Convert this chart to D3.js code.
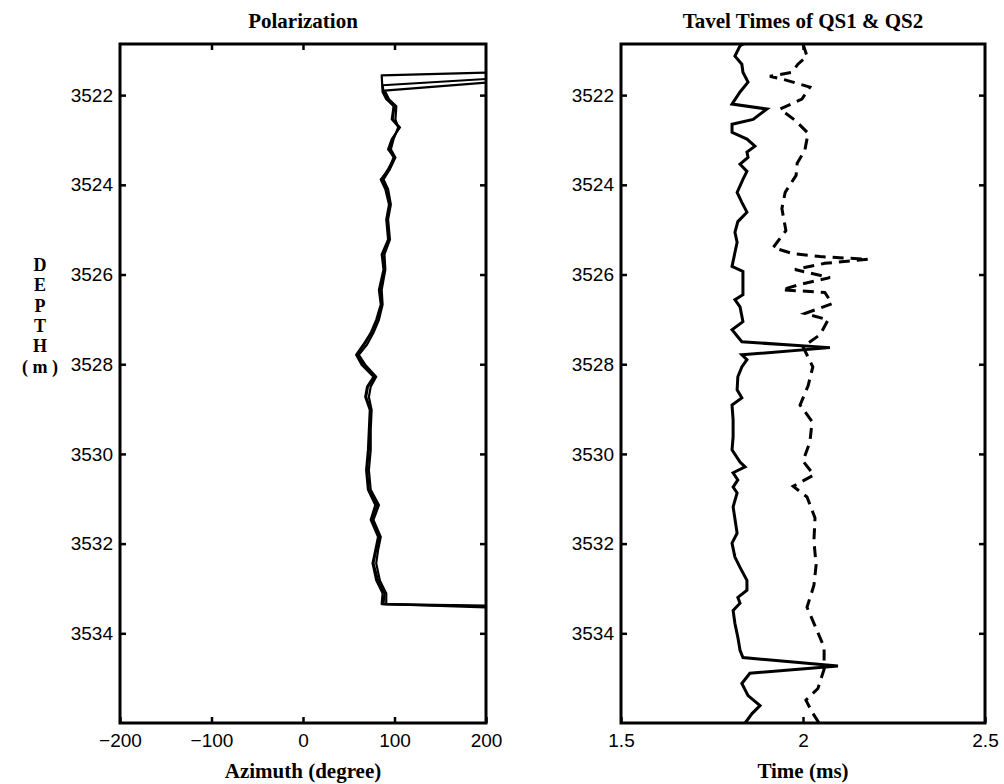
<!DOCTYPE html>
<html>
<head>
<meta charset="utf-8">
<script src="https://cdn.jsdelivr.net/npm/d3@7"></script>
<style>
  body { margin: 0; background: #fff; }
  .tick text { font-family: 'Liberation Sans', Arial, sans-serif; font-size: 19px; fill: #000; }
</style>
</head>
<body>
<div id="chart"></div>
<script>
// depth axis (shared)
var depthTicks = [3522, 3524, 3526, 3528, 3530, 3532, 3534];
var depthLabel = ['D', 'E', 'P', 'T', 'H', '( m )'];

// polarization panel
var azimuthTicks = [-200, -100, 0, 100, 200];
var polTopStart = [3521.50, 3521.72, 3521.64];
var polTopCorner = [3521.56, 3521.90, 3521.78];
var polTopCornerAz = [86, 89, 87];
var polEndDepth = [3533.38, 3533.42, 3533.40];
var depthPol = [3521.93, 3522.09, 3522.25, 3522.54, 3522.72, 3522.98, 3523.21, 3523.39, 3523.65, 3523.88,
  3524.10, 3524.44, 3524.77, 3525.22, 3525.55, 3525.89, 3526.34, 3526.67, 3527.01, 3527.30,
  3527.56, 3527.79, 3528.01, 3528.28, 3528.50, 3528.73, 3529.02, 3529.46, 3529.91, 3530.36,
  3530.80, 3531.14, 3531.47, 3531.85, 3532.15, 3532.44, 3532.82, 3533.11, 3533.35];
var azimuthA = [87, 91, 100, 98, 106, 97, 93, 100, 93, 86, 91, 95, 92, 94, 87, 89, 84, 86, 81, 75,
  67, 59, 66, 79, 71, 69, 74, 73, 72, 70, 72, 81, 75, 84, 80, 77, 82, 89, 88];
var azimuthB = [90, 94, 102, 101, 104, 99, 96, 101, 95, 88, 93, 96, 93, 95, 89, 90, 86, 87, 83, 77,
  70, 61, 68, 80, 74, 72, 75, 74, 74, 72, 74, 83, 77, 85, 82, 80, 84, 91, 91];
var azimuthC = [88, 92, 99, 97, 105, 98, 94, 99, 94, 85, 90, 94, 91, 93, 86, 88, 83, 85, 80, 74,
  66, 58, 64, 77, 70, 68, 73, 72, 71, 69, 71, 79, 74, 82, 79, 76, 80, 87, 86];

// travel time panel
var timeTicks = [1.5, 2, 2.5];
var qs1Depth = [3520.84, 3520.90, 3521.13, 3521.31, 3521.49, 3521.71, 3521.93, 3522.20, 3522.31, 3522.54,
  3522.65, 3522.83, 3522.98, 3523.14, 3523.27, 3523.39, 3523.54, 3523.70, 3523.88, 3524.17,
  3524.39, 3524.61, 3524.82, 3525.06, 3525.28, 3525.51, 3525.82, 3525.93, 3526.45, 3526.56,
  3526.72, 3527.05, 3527.23, 3527.50, 3527.63, 3527.79, 3527.90, 3528.06, 3528.28, 3528.57,
  3528.75, 3528.91, 3529.24, 3529.62, 3529.91, 3530.18, 3530.29, 3530.42, 3530.58, 3530.74,
  3530.87, 3531.18, 3531.77, 3531.99, 3532.30, 3532.53, 3532.82, 3533.04, 3533.20, 3533.33,
  3533.49, 3533.78, 3534.09, 3534.38, 3534.54, 3534.73, 3534.89, 3535.12, 3535.39, 3535.61,
  3535.79, 3536.00];
var qs1Time = [1.841, 1.827, 1.813, 1.832, 1.835, 1.849, 1.827, 1.805, 1.901, 1.863,
  1.805, 1.805, 1.846, 1.868, 1.846, 1.849, 1.827, 1.846, 1.835, 1.819,
  1.832, 1.846, 1.821, 1.813, 1.819, 1.813, 1.805, 1.835, 1.835, 1.813,
  1.827, 1.835, 1.805, 1.832, 2.074, 1.832, 1.846, 1.832, 1.821, 1.819,
  1.832, 1.805, 1.808, 1.808, 1.805, 1.827, 1.841, 1.808, 1.821, 1.808,
  1.819, 1.808, 1.819, 1.805, 1.813, 1.827, 1.846, 1.846, 1.821, 1.827,
  1.808, 1.813, 1.821, 1.827, 1.835, 2.096, 1.854, 1.832, 1.849, 1.882,
  1.860, 1.841];
var qs2Depth = [3520.86, 3521.13, 3521.31, 3521.49, 3521.58, 3521.66, 3521.82, 3522.09, 3522.31, 3522.56,
  3522.85, 3523.23, 3523.52, 3523.79, 3524.17, 3524.53, 3525.02, 3525.40, 3525.53, 3525.60,
  3525.66, 3525.75, 3525.89, 3526.07, 3526.22, 3526.34, 3526.40, 3526.65, 3526.87, 3527.01,
  3527.34, 3527.61, 3528.06, 3528.48, 3528.91, 3529.28, 3529.73, 3530.16, 3530.47, 3530.72,
  3530.96, 3531.43, 3531.94, 3532.48, 3532.93, 3533.42, 3533.89, 3534.31, 3534.80, 3535.23,
  3535.49, 3535.76, 3536.00];
var qs2Time = [2.000, 2.011, 1.986, 1.970, 1.909, 1.951, 2.019, 1.997, 1.937, 1.978,
  2.014, 2.005, 1.984, 1.981, 1.951, 1.942, 1.953, 1.918, 1.970, 2.047,
  2.179, 2.060, 1.978, 2.074, 1.992, 1.942, 2.060, 2.080, 2.005, 2.069,
  2.047, 2.000, 2.027, 2.014, 1.992, 2.025, 2.019, 2.000, 2.030, 1.973,
  2.011, 2.033, 2.030, 2.036, 2.030, 2.011, 2.036, 2.058, 2.058, 2.041,
  2.008, 2.025, 2.044];

var width = 1004, height = 784,
  plotTop = 44, plotBottom = 723,
  serif = "'Liberation Serif', 'Times New Roman', serif";

var svg = d3.select('#chart').append('svg')
  .attr('width', width)
  .attr('height', height);

var y = d3.scaleLinear().domain([3520.86, 3536.0]).range([plotTop, plotBottom]);

function panel(x0, x1, domain, xTicks, xFmt, title, xLabel, id) {
  var x = d3.scaleLinear().domain(domain).range([x0, x1]);
  var g = svg.append('g');

  g.append('clipPath').attr('id', id)
    .append('rect')
    .attr('x', x0).attr('y', plotTop)
    .attr('width', x1 - x0).attr('height', plotBottom - plotTop);

  var inner = xTicks.slice(1, -1);

  g.append('g').attr('transform', 'translate(0,' + plotBottom + ')')
    .call(d3.axisBottom(x).tickValues(xTicks).tickSize(-6).tickSizeOuter(0).tickPadding(11).tickFormat(xFmt));
  g.append('g').attr('transform', 'translate(0,' + plotTop + ')')
    .call(d3.axisTop(x).tickValues(inner).tickSize(-6).tickSizeOuter(0).tickFormat(''));
  g.append('g').attr('transform', 'translate(' + x0 + ',0)')
    .call(d3.axisLeft(y).tickValues(depthTicks).tickSize(-6).tickSizeOuter(0).tickPadding(7).tickFormat(d3.format('d')));
  g.append('g').attr('transform', 'translate(' + x1 + ',0)')
    .call(d3.axisRight(y).tickValues(depthTicks).tickSize(-6).tickSizeOuter(0).tickFormat(''));

  g.selectAll('.domain').remove();
  g.selectAll('.tick line').attr('stroke', '#000').attr('stroke-width', 2.5);

  g.append('rect')
    .attr('x', x0).attr('y', plotTop)
    .attr('width', x1 - x0).attr('height', plotBottom - plotTop)
    .attr('fill', 'none')
    .attr('stroke', '#000')
    .attr('stroke-width', 3);

  g.append('text')
    .attr('x', (x0 + x1) / 2).attr('y', 28)
    .attr('text-anchor', 'middle')
    .style('font-family', serif).style('font-weight', 'bold').style('font-size', '21px')
    .text(title);
  g.append('text')
    .attr('x', (x0 + x1) / 2).attr('y', 778)
    .attr('text-anchor', 'middle')
    .style('font-family', serif).style('font-weight', 'bold').style('font-size', '21px')
    .text(xLabel);

  return {x: x, g: g};
}

// left: polarization
var left = panel(120, 486, [-200, 200], azimuthTicks, d3.format('d'), 'Polarization', 'Azimuth (degree)', 'clipL');

var polSeries = [azimuthA, azimuthB, azimuthC].map(function(az, i) {
  var pts = [[200, polTopStart[i]], [polTopCornerAz[i], polTopCorner[i]]];
  az.forEach(function(a, j) { pts.push([a, depthPol[j]]); });
  pts.push([200, polEndDepth[i]]);
  return pts;
});

var polLine = d3.line()
  .x(function(d) { return left.x(d[0]); })
  .y(function(d) { return y(d[1]); });

left.g.append('g').attr('clip-path', 'url(#clipL)')
  .selectAll('path')
  .data(polSeries)
  .enter().append('path')
  .attr('d', polLine)
  .attr('fill', 'none')
  .attr('stroke', '#000')
  .attr('stroke-width', 2.2)
  .attr('stroke-linejoin', 'round');

// right: travel times
var right = panel(621, 985, [1.5, 2.5], timeTicks, d3.format('~g'), 'Tavel Times of QS1 & QS2', 'Time (ms)', 'clipR');

var ttLine = d3.line()
  .x(function(d) { return right.x(d[0]); })
  .y(function(d) { return y(d[1]); });

var clipped = right.g.append('g').attr('clip-path', 'url(#clipR)');
clipped.append('path')
  .datum(d3.zip(qs1Time, qs1Depth))
  .attr('d', ttLine)
  .attr('fill', 'none')
  .attr('stroke', '#000')
  .attr('stroke-width', 3);
clipped.append('path')
  .datum(d3.zip(qs2Time, qs2Depth))
  .attr('d', ttLine)
  .attr('fill', 'none')
  .attr('stroke', '#000')
  .attr('stroke-width', 3)
  .attr('stroke-dasharray', '11,7');

// vertical DEPTH label
svg.append('g').selectAll('text')
  .data(depthLabel)
  .enter().append('text')
  .attr('x', 40)
  .attr('y', function(d, i) { return 271 + i * 20.3; })
  .attr('text-anchor', 'middle')
  .style('font-family', serif).style('font-weight', 'bold').style('font-size', '18px')
  .text(function(d) { return d; });
</script>
</body>
</html>
